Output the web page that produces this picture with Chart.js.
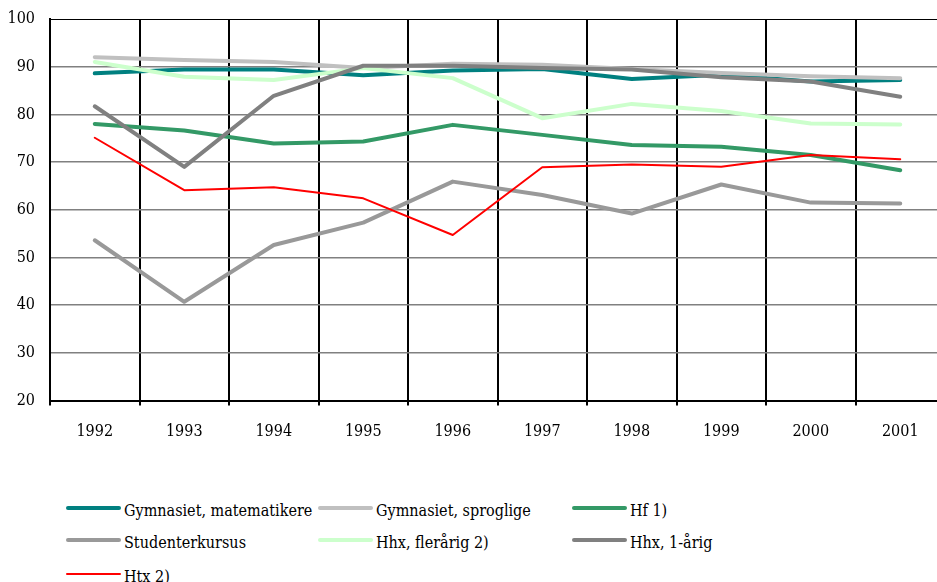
<!DOCTYPE html>
<html>
<head>
<meta charset="utf-8">
<script src="https://cdn.jsdelivr.net/npm/chart.js@4.4.0/dist/chart.umd.min.js"></script>
<style>
  body { margin: 0; background: #fff; overflow: hidden; width: 937px; height: 582px; position: relative; }
  #wrap { position: absolute; left: 0; top: 0; width: 945px; height: 440px; }
  .leg { position: absolute; display: flex; align-items: center; height: 24px;
         font-family: "DejaVu Serif Condensed", "DejaVu Serif", serif; font-stretch: condensed;
         font-size: 16px; color: #000; white-space: nowrap; }
  .leg span.ln { display: inline-block; width: 55px; border-radius: 3px; margin-right: 3px; }
  .leg span.tx { position: relative; top: 2px; }
</style>
</head>
<body>
<div id="wrap"><canvas id="myChart"></canvas></div>
<div id="legend"></div>
<script>
const years = ['1992', '1993', '1994', '1995', '1996', '1997', '1998', '1999', '2000', '2001'];

const names = ['Gymnasiet, matematikere', 'Gymnasiet, sproglige', 'Hf 1)',
    'Studenterkursus', 'Hhx, flerårig 2)', 'Hhx, 1-årig', 'Htx 2)'];

const gymMat   = [88.6, 89.4, 89.4, 88.2, 89.2, 89.5, 87.4, 88.3, 86.9, 87.2];
const gymSprog = [92.0, 91.4, 91.0, 89.7, 90.6, 90.4, 89.5, 88.7, 88.0, 87.6];
const hf       = [78.0, 76.6, 73.9, 74.3, 77.8, 75.7, 73.6, 73.2, 71.5, 68.3];
const studKurs = [53.6, 40.7, 52.6, 57.3, 65.9, 63.1, 59.2, 65.3, 61.5, 61.3];
const hhxFler  = [91.0, 87.9, 87.2, 89.7, 87.6, 79.2, 82.2, 80.7, 78.1, 77.9];
const hhx1     = [81.7, 69.0, 83.9, 90.2, 90.2, 89.7, 89.4, 87.8, 86.9, 83.7];
const htx      = [75.1, 64.1, 64.7, 62.4, 54.7, 68.9, 69.5, 69.0, 71.5, 70.6];

const series = [gymMat, gymSprog, hf, studKurs, hhxFler, hhx1, htx];
const colors = ['#008080', '#C0C0C0', '#339966', '#999999', '#CCFFCC', '#808080', '#FF0000'];
const widths = [4, 4, 4, 4, 4, 4, 2];

const font = { family: "'DejaVu Serif Condensed', 'DejaVu Serif', serif", size: 16 };

datasets = [];
for (i = 0; i < series.length; i++) {
    datasets.push({
        label: names[i],
        data: series[i],
        borderColor: colors[i],
        backgroundColor: colors[i],
        borderWidth: widths[i],
        pointRadius: 0,
        tension: 0,
        borderCapStyle: 'round',
        borderJoinStyle: 'round',
        order: series.length - i
    });
}

const chart = new Chart(document.getElementById('myChart'), {
    type: 'line',
    data: { labels: years, datasets: datasets },
    options: {
        responsive: true,
        maintainAspectRatio: false,
        animation: false,
        layout: { padding: { top: 19, left: 0, right: 0, bottom: 0 } },
        plugins: { legend: { display: false }, tooltip: { enabled: false } },
        scales: {
            x: {
                offset: true,
                grid: { offset: true, color: '#000', lineWidth: 2, tickLength: 5, tickColor: '#000' },
                border: { color: '#000', width: 2 },
                ticks: { color: '#000', font: font, padding: 17, maxRotation: 0 },
                afterFit: function(scale) { scale.height = 39.5; scale.paddingLeft = 0; scale.paddingRight = 0; }
            },
            y: {
                min: 20,
                max: 100,
                ticks: { stepSize: 10, color: '#000', font: font, padding: 15 },
                grid: {
                    drawTicks: false,
                    color: function(ctx) { return ctx.tick && ctx.tick.value === 100 ? '#000' : '#808080'; },
                    lineWidth: function(ctx) { return ctx.tick && ctx.tick.value === 100 ? 1 : 1.5; }
                },
                border: { color: '#000', width: 2 },
                afterFit: function(scale) { scale.width = 50; scale.paddingTop = 0; scale.paddingBottom = 0; }
            }
        }
    }
});

// legend in three columns like the original
const legLeft = [66, 318, 572];
const legTop = [508, 540, 574];
const legend = document.getElementById('legend');
chart.data.datasets.forEach(function(ds, i) {
    const item = document.createElement('div');
    item.className = 'leg';
    item.style.left = legLeft[i % 3] + 'px';
    item.style.top = (legTop[Math.floor(i / 3)] - 12) + 'px';
    const ln = document.createElement('span');
    ln.className = 'ln';
    ln.style.height = ds.borderWidth + 'px';
    ln.style.background = ds.borderColor;
    const tx = document.createElement('span');
    tx.className = 'tx';
    tx.textContent = ds.label;
    item.appendChild(ln);
    item.appendChild(tx);
    legend.appendChild(item);
});
</script>
</body>
</html>
